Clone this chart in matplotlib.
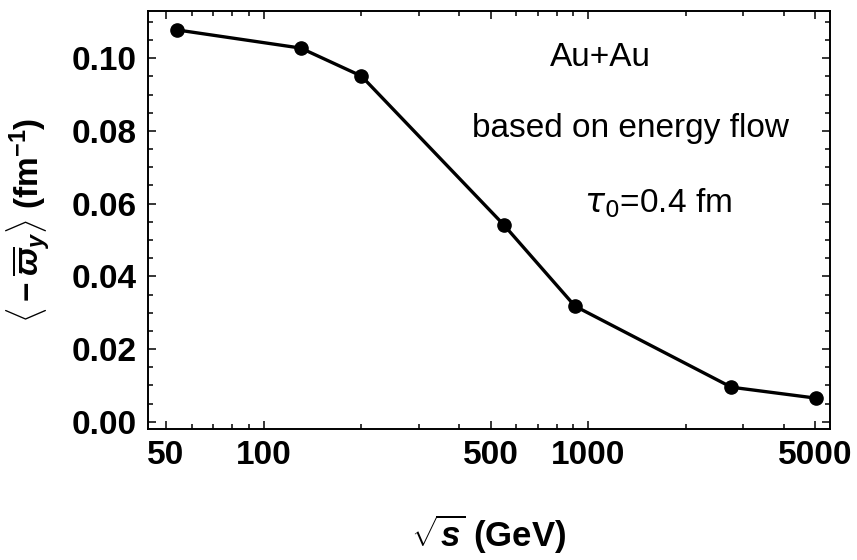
import matplotlib
matplotlib.use("Agg")
import matplotlib.pyplot as plt
from matplotlib.ticker import FixedLocator, NullFormatter

plt.rcParams['font.family'] = ['Liberation Sans', 'DejaVu Sans']
plt.rcParams['mathtext.fontset'] = 'custom'
plt.rcParams['mathtext.rm'] = 'Liberation Sans:bold'
plt.rcParams['mathtext.it'] = 'Liberation Sans:italic:bold'
plt.rcParams['mathtext.bf'] = 'Liberation Sans:bold'

# data
sqrt_s = [54, 130, 200, 550, 910, 2760, 5020]
omega_y = [0.1078, 0.1028, 0.0951, 0.0541, 0.0318, 0.0095, 0.0065]
x_major = [50, 100, 500, 1000, 5000]
x_major_labels = ['50', '100', '500', '1000', '5000']
x_minor = [60, 70, 80, 90, 200, 300, 400, 600, 700, 800, 900, 2000, 3000, 4000]
y_major = [0.00, 0.02, 0.04, 0.06, 0.08, 0.10]
y_major_labels = ['0.00', '0.02', '0.04', '0.06', '0.08', '0.10']
y_minor = [i * 0.005 for i in range(0, 23)]

fig = plt.figure(figsize=(8.57, 5.60), dpi=100)
ax = fig.add_axes([148/857, 1 - 429/560, (830 - 148)/857, (429 - 11)/560])

ax.plot(sqrt_s, omega_y, color='black', lw=2.4, marker='o', ms=9.5, zorder=3)

ax.set_xscale('log')
ax.set_xlim(44.0, 5557)
ax.set_ylim(-0.0020, 0.1130)

ax.xaxis.set_major_locator(FixedLocator(x_major))
ax.set_xticklabels(x_major_labels)
ax.xaxis.set_minor_locator(FixedLocator(x_minor))
ax.xaxis.set_minor_formatter(NullFormatter())
ax.yaxis.set_major_locator(FixedLocator(y_major))
ax.set_yticklabels(y_major_labels)
ax.yaxis.set_minor_locator(FixedLocator(y_minor))

ax.tick_params(which='both', direction='in', top=True, right=True, width=1.1, color='black')
ax.tick_params(which='major', length=6, labelsize=24, pad=8)
ax.tick_params(which='minor', length=3.5)
for lab in ax.get_xticklabels() + ax.get_yticklabels():
    lab.set_fontweight('bold')

for sp in ax.spines.values():
    sp.set_linewidth(1.4)
    sp.set_color('black')

ax.set_xlabel(r'$\sqrt{s}$ (GeV)', fontsize=25, fontweight='bold', labelpad=30)
ax.set_ylabel(r'$\langle -\overline{\varpi}_y\rangle$ (fm$^{-1}$)', fontsize=24, fontweight='bold', labelpad=14)

ax.text(600/857, 1 - 58/560, 'Au+Au', transform=fig.transFigure, ha='center', va='center', fontsize=24)
ax.text(630/857, 1 - 128/560, 'based on energy flow', transform=fig.transFigure, ha='center', va='center', fontsize=24)
ax.text(658/857, 1 - 203/560, r'$\tau_0$=0.4 fm', transform=fig.transFigure, ha='center', va='center', fontsize=24,
        math_fontfamily='dejavusans')

fig.savefig('out.png', dpi=100)
